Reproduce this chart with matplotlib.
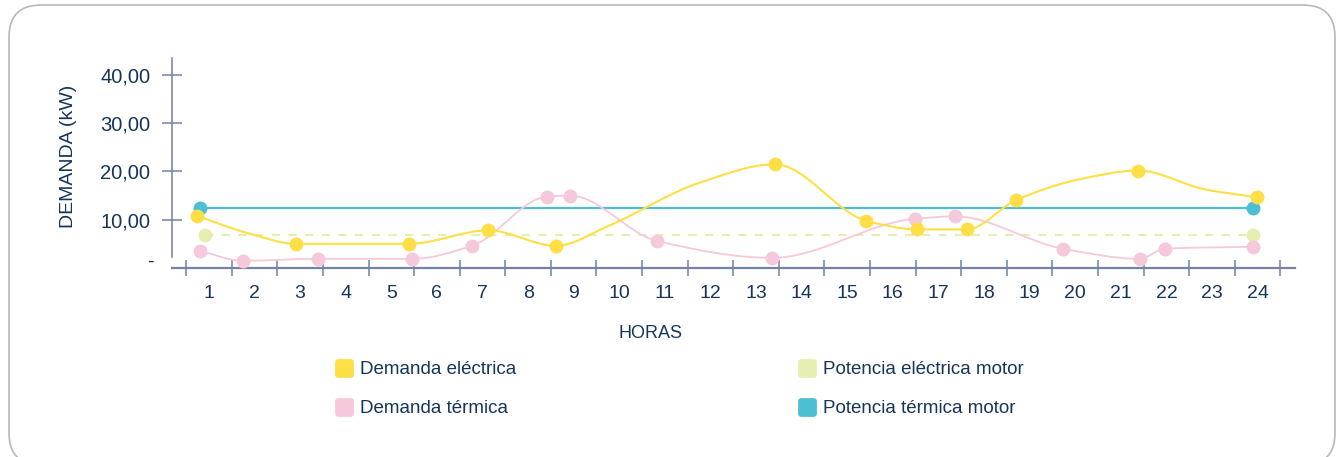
import numpy as np
import matplotlib
matplotlib.use('Agg')
import matplotlib.pyplot as plt
from matplotlib.path import Path
from matplotlib.patches import PathPatch, FancyBboxPatch, BoxStyle
from matplotlib.lines import Line2D
from matplotlib.transforms import IdentityTransform

plt.rcParams['font.family'] = ['Liberation Sans', 'DejaVu Sans']

TEXTO = '#17355a'
EJE = '#7283a3'
AMARILLO = '#ffdf45'
ROSA = '#f6c8dc'
CIAN = '#4cbfd4'
PALIDO = '#e8edb2'

horas = list(range(1, 25))

# Demanda eléctrica (kW); marca = 1 where the point carries a dot
elec_x = [0.74, 1.83, 2.92, 5.39, 7.13, 8.61, 9.76, 11.77, 13.41, 15.42,
          16.52, 17.62, 18.71, 20.10, 21.38, 22.84, 23.98]
elec_y = [10.8, 7.3, 5.0, 5.0, 7.8, 4.6, 8.7, 17.7, 21.5, 9.8,
          8.0, 8.0, 14.1, 18.4, 20.2, 16.3, 14.65]
elec_marca = [1, 0, 1, 1, 1, 1, 0, 0, 1, 1, 1, 1, 1, 0, 1, 0, 1]

# Demanda térmica (kW)
term_x = [0.81, 1.74, 3.40, 5.46, 6.77, 8.42, 8.92, 10.83, 13.35, 16.48,
          17.36, 19.73, 21.42, 21.96, 23.90]
term_y = [3.5, 1.5, 1.9, 1.9, 4.6, 14.8, 15.0, 5.6, 2.1, 10.2,
          10.7, 4.0, 1.9, 4.0, 4.4]

# Potencias del motor (kW)
motor_elec_x = [0.92, 23.90]
motor_elec_y = [6.9, 6.9]
motor_term_x = [0.81, 23.90]
motor_term_y = [12.5, 12.5]


def curva(x, y):
    # monotone cubic through the points, built as bezier segments
    x = np.asarray(x, float)
    y = np.asarray(y, float)
    h = np.diff(x)
    d = np.diff(y) / h
    m = np.zeros_like(x)
    m[0], m[-1] = d[0], d[-1]
    for k in range(1, len(x) - 1):
        if d[k - 1] * d[k] > 0:
            w1 = 2 * h[k] + h[k - 1]
            w2 = h[k] + 2 * h[k - 1]
            m[k] = (w1 + w2) / (w1 / d[k - 1] + w2 / d[k])
    verts = [(x[0], y[0])]
    codes = [Path.MOVETO]
    for k in range(len(x) - 1):
        verts += [(x[k] + h[k] / 3, y[k] + m[k] * h[k] / 3),
                  (x[k + 1] - h[k] / 3, y[k + 1] - m[k + 1] * h[k] / 3),
                  (x[k + 1], y[k + 1])]
        codes += [Path.CURVE4] * 3
    return Path(verts, codes)


fig = plt.figure(figsize=(13.37, 4.57), dpi=100)

# rounded frame around the whole card
marco = FancyBboxPatch((9, -8), 1326, 460,
                       boxstyle='round,pad=0,rounding_size=32',
                       transform=IdentityTransform(), facecolor='none',
                       edgecolor='#b8b8b8', lw=1.2, zorder=-1)
fig.patches.append(marco)

ax = fig.add_axes([172 / 1337, 1 - 268 / 457, 1123 / 1337, 210 / 457])
ax.patch.set_alpha(0)
ax.set_xlim(0.19, 24.82)
ax.set_ylim(0, 43.52)

# motor power lines
ax.plot(motor_term_x, motor_term_y, color=CIAN, lw=1.6, zorder=2)
ax.plot(motor_term_x, motor_term_y, 'o', color=CIAN, ms=9, zorder=5)
ax.plot(motor_elec_x, motor_elec_y, color=PALIDO, lw=1.5, dashes=(4, 4), zorder=2)
ax.plot(motor_elec_x, motor_elec_y, 'o', color=PALIDO, ms=9, zorder=5)

# thermal demand
ax.add_patch(PathPatch(curva(term_x, term_y), fill=False, edgecolor=ROSA,
                       lw=1.3, zorder=3))
ax.plot(term_x, term_y, 'o', color=ROSA, ms=9, zorder=5, clip_on=False)

# electric demand
ax.add_patch(PathPatch(curva(elec_x, elec_y), fill=False, edgecolor=AMARILLO,
                       lw=1.5, zorder=4))
ex = [v for v, s in zip(elec_x, elec_marca) if s]
ey = [v for v, s in zip(elec_y, elec_marca) if s]
ax.plot(ex, ey, 'o', color=AMARILLO, ms=9, zorder=6)

# axes styling
for lado in ['top', 'right']:
    ax.spines[lado].set_visible(False)
ax.spines['left'].set_color(EJE)
ax.spines['left'].set_linewidth(1.1)
ax.spines['left'].set_bounds(2.3, 43.52)
ax.spines['bottom'].set_color(EJE)
ax.spines['bottom'].set_linewidth(1.6)

ax.set_xticks(horas, [str(h) for h in horas])
ax.set_xticks([h - 0.5 for h in horas] + [24.5], minor=True)
ax.tick_params(axis='x', which='major', length=0, pad=12.5,
               labelsize=14, labelcolor=TEXTO)
ax.tick_params(axis='x', which='minor', direction='inout', length=11,
               width=1.1, color=EJE)

ax.set_yticks([10, 20, 30, 40], ['10,00', '20,00', '30,00', '40,00'])
ax.tick_params(axis='y', direction='inout', length=15, width=1.1,
               color=EJE, pad=8, labelsize=14.5, labelcolor=TEXTO)
ax.annotate('-', xy=(0, 0), xycoords=('axes fraction', 'data'),
            xytext=(-18, 7), textcoords='offset pixels',
            ha='right', va='center', fontsize=14.5, color=TEXTO)

ax.set_xlabel('HORAS', fontsize=13, color=TEXTO)
ax.xaxis.set_label_coords(0.4265, -0.27)
ax.set_ylabel('DEMANDA (kW)', fontsize=14, color=TEXTO)
ax.yaxis.set_label_coords(-0.085, 0.533)

cuadro = BoxStyle('round', pad=0, rounding_size=0.18)(-0.5, -0.5, 1, 1, 1)
series = [('Demanda eléctrica', AMARILLO), ('Demanda térmica', ROSA),
          ('Potencia eléctrica motor', PALIDO), ('Potencia térmica motor', CIAN)]
handles = [Line2D([], [], ls='none', marker=cuadro, ms=13.5, color=c,
                  markeredgewidth=0) for _, c in series]
fig.legend(handles, [n for n, _ in series], ncol=2, frameon=False,
           loc='upper left', bbox_to_anchor=(335 / 1337, 1 - 361 / 457),
           borderpad=0, borderaxespad=0, fontsize=13.5, labelcolor=TEXTO,
           handlelength=1.0, handletextpad=0.35, columnspacing=15.0,
           labelspacing=1.17)

fig.savefig('out.png', dpi=100)
